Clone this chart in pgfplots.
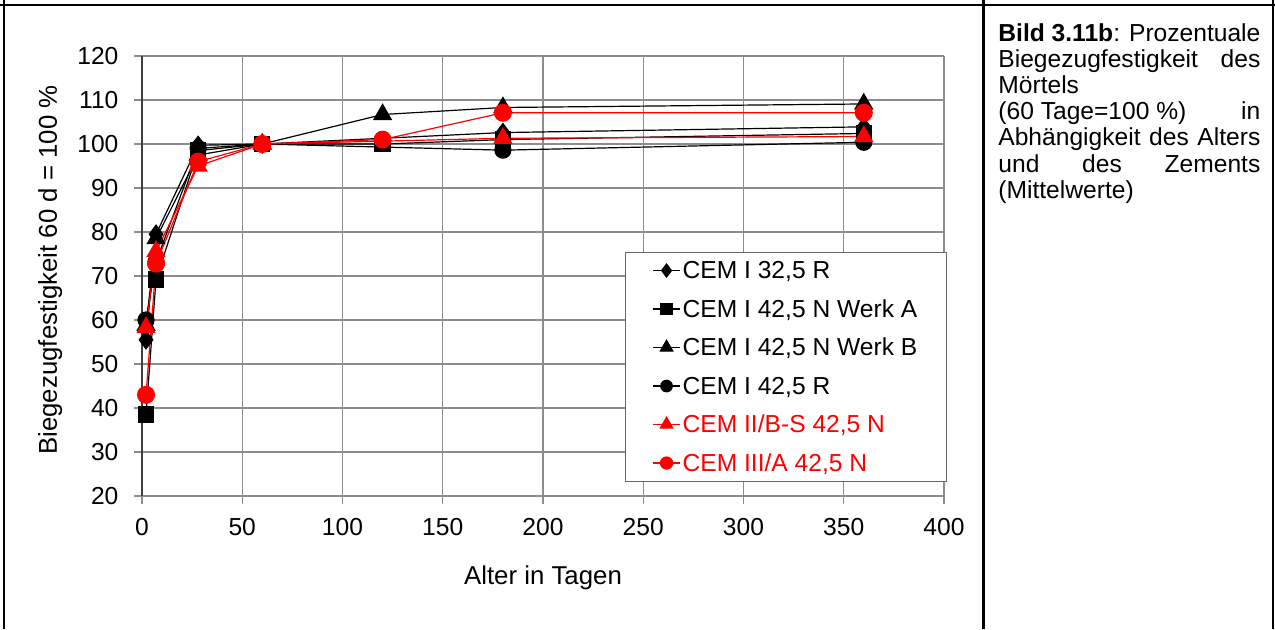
\documentclass[border=0pt]{standalone}
\usepackage{fontspec}
\setmainfont{Liberation Sans}
\usepackage{pgfplots}
\pgfplotsset{compat=1.18}
\newcommand\f{\fontsize{12.3pt}{14pt}\selectfont}
\newcommand\fl{\fontsize{12.9pt}{15pt}\selectfont}
\definecolor{gridg}{rgb}{0.55,0.55,0.55}
\definecolor{myred}{rgb}{1,0,0}
\begin{document}
\begin{tikzpicture}
\path[use as bounding box] (0,0) rectangle (637.5pt,314.5pt);
\draw[line width=1.1pt] (0,312pt) -- (637.5pt,312pt);
\draw[line width=1.1pt] (2pt,0) -- (2pt,314.5pt);
\draw[line width=1.1pt] (491.7pt,0) -- (491.7pt,314.5pt);
\draw[line width=1.1pt] (636.6pt,0) -- (636.6pt,314.5pt);
\node[inner sep=0pt, anchor=base west] at (499pt,294pt) {\f\vtop{\hsize=131pt\baselineskip=13.1pt
\hbox to\hsize{\textbf{Bild 3.11b}:\hfill Prozentuale}
\hbox to\hsize{Biegezugfestigkeit\hfill des}
\hbox to\hsize{Mörtels\hfil}
\hbox to\hsize{(60 Tage=100 \%)\hfill in}
\hbox to\hsize{Abhängigkeit\hfill des\hfill Alters}
\hbox to\hsize{und\hfill des\hfill Zements}
\hbox to\hsize{(Mittelwerte)\hfil}}};
\begin{axis}[
  at={(71pt,66.5pt)}, anchor=south west,
  scale only axis, width=401pt, height=220pt,
  xmin=0, xmax=400, ymin=20, ymax=120,
  xtick={0,50,...,400}, ytick={20,30,...,120},
  axis lines*=left,
  x axis line style={draw=gridg, line width=0.6pt},
  y axis line style={draw=black!75, line width=0.7pt},
  grid=major, grid style={draw=gridg, line width=0.6pt},
  tick align=outside, major tick length=3.75pt,
  tick style={draw=gridg, line width=0.6pt},
  /pgf/number format/assume math mode=true,
  ticklabel style={font=\f},
  xticklabel style={yshift=-4pt},
  yticklabel style={xshift=-4.5pt},
  xlabel={Alter in Tagen},
  ylabel={Biegezugfestigkeit 60 d = 100 \%},
  label style={font=\fl},
  xlabel style={at={(axis description cs:0.5,-0.2)}, anchor=base},
  ylabel style={at={(axis description cs:-0.106,0.5136)}, anchor=base, rotate=0},
  legend cell align=left,
  legend style={at={(0.6022,0.5545)}, anchor=north west, font=\f,
    draw=black!60, line width=0.5pt, inner xsep=13.5pt, inner ysep=3pt,
    row sep=7.25pt,
    nodes={inner sep=1pt, text height=9pt, text depth=1pt}},
  legend image code/.code={\draw[mark repeat=2,mark phase=2,#1,mark options={scale=0.72}] plot coordinates {(0pt,0pt) (6.75pt,0pt) (13.5pt,0pt)};},
  every axis plot/.append style={line width=0.6pt, mark options={solid}},
]
\addplot[black, mark=diamond*, mark size=4.5pt] coordinates {
 (2,55.5) (7,79.5) (28,99.7) (60,100) (180,102.6) (360,103.9)};
\addlegendentry{CEM I 32,5 R}
\addplot[black, mark=square*, mark size=3.8pt] coordinates {
 (2,38.5) (7,69.2) (28,98.5) (60,100) (120,100) (180,101) (360,102.4)};
\addlegendentry{CEM I 42,5 N Werk A}
\addplot[black, mark=triangle*, mark size=5pt] coordinates {
 (2,58.8) (7,78.5) (28,97.5) (60,100) (120,106.7) (180,108.3) (360,109.1)};
\addlegendentry{CEM I 42,5 N Werk B}
\addplot[black, mark=*, mark size=4pt] coordinates {
 (2,60) (7,73.2) (28,99) (60,100) (180,98.6) (360,100.4)};
\addlegendentry{CEM I 42,5 R}
\addplot[myred, mark=triangle*, mark size=5pt] coordinates {
 (2,58.3) (7,75.6) (28,95) (60,100) (180,101.3) (360,101.7)};
\addlegendentry{\textcolor{myred}{CEM II/B-S 42,5 N}}
\addplot[myred, mark=*, mark size=4.2pt] coordinates {
 (2,43) (7,72.8) (28,96) (60,100) (120,101) (180,107.1) (360,107.1)};
\addlegendentry{\textcolor{myred}{CEM III/A 42,5 N}}
\end{axis}
\end{tikzpicture}
\end{document}
